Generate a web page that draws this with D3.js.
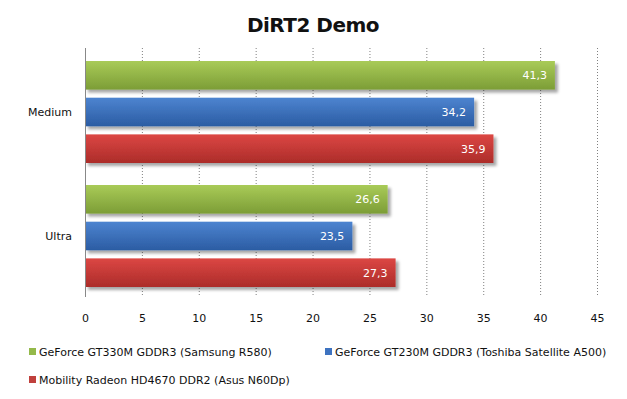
<!DOCTYPE html>
<html><head><meta charset="utf-8">
<script src="https://cdn.jsdelivr.net/npm/d3@7"></script>
<style>body{margin:0;background:#fff}svg{display:block}</style>
</head><body>
<script>
const categories = ["Medium", "Ultra"];
const seriesNames = ["GeForce GT330M GDDR3 (Samsung R580)", "GeForce GT230M GDDR3 (Toshiba Satellite A500)", "Mobility Radeon HD4670 DDR2 (Asus N60Dp)"];
const seriesValues = [[41.3, 26.6], [34.2, 23.5], [35.9, 27.3]];
const xTicks = [0, 5, 10, 15, 20, 25, 30, 35, 40, 45];
const title = "DiRT2 Demo";

(function () {
const colors = [
  {top: "#a9cb58", bot: "#7c9d36", sw: "#94b94a"},
  {top: "#4d84d0", bot: "#2b5ca3", sw: "#3e73c0"},
  {top: "#dc4744", bot: "#ac2c29", sw: "#c0403c"}
];

const W = 627, H = 399;
const svg = d3.select("body").append("svg").attr("width", W).attr("height", H);
const defs = svg.append("defs");
colors.forEach((c, i) => {
  const g = defs.append("linearGradient").attr("id", "g" + i).attr("x1", 0).attr("y1", 0).attr("x2", 0).attr("y2", 1);
  g.append("stop").attr("offset", "0%").attr("stop-color", c.top);
  g.append("stop").attr("offset", "100%").attr("stop-color", c.bot);
});
const f = defs.append("filter").attr("id", "sh").attr("x", "-5%").attr("y", "-20%").attr("width", "115%").attr("height", "160%");
f.append("feGaussianBlur").attr("in", "SourceAlpha").attr("stdDeviation", 1.5).attr("result", "b");
f.append("feOffset").attr("in", "b").attr("dx", 3).attr("dy", 3).attr("result", "o");
f.append("feComponentTransfer").attr("in", "o").attr("result", "o2").append("feFuncA").attr("type", "linear").attr("slope", 0.35);
const m = f.append("feMerge");
m.append("feMergeNode").attr("in", "o2");
m.append("feMergeNode").attr("in", "SourceGraphic");

const pl = 85, pr = 597, pt = 48, pb = 297;
const x = d3.scaleLinear().domain([0, 45]).range([pl, pr]);
const y0 = d3.scaleBand().domain(categories).range([pt + 2, pb + 1]).paddingInner(0).paddingOuter(0);
const y1 = d3.scaleBand().domain(d3.range(seriesNames.length)).range([11, y0.bandwidth() - 11]).paddingInner(0.22).paddingOuter(0);

svg.append("text").attr("x", 313).attr("y", 32).attr("text-anchor", "middle")
  .style("font-family", "'DejaVu Sans'").style("font-weight", "bold").style("font-size", "20px")
  .style("letter-spacing", "-0.5px").attr("fill", "#111").text(title);

// gridlines
svg.append("g").selectAll("line").data(xTicks.slice(1)).join("line")
  .attr("x1", d => x(d) + 0.5).attr("x2", d => x(d) + 0.5)
  .attr("y1", pt).attr("y2", pb)
  .attr("stroke", "#808080").attr("stroke-width", 1).attr("stroke-dasharray", "1,2");

// bars
const groups = svg.append("g").selectAll("g").data(categories).join("g")
  .attr("transform", d => `translate(0,${y0(d)})`);
groups.each(function(cat, ci) {
  const g = d3.select(this);
  seriesNames.forEach((s, si) => {
    const v = seriesValues[si][ci];
    g.append("rect").attr("x", x(0)).attr("y", y1(si)).attr("width", x(v) - x(0)).attr("height", y1.bandwidth())
      .attr("fill", `url(#g${si})`).attr("filter", "url(#sh)");
    g.append("text").attr("x", x(v) - 8).attr("y", y1(si) + y1.bandwidth() / 2 + 4)
      .attr("text-anchor", "end").attr("fill", "#fff")
      .style("font-family", "'DejaVu Sans'").style("font-size", "11px")
      .text(String(v).replace(".", ","));
  });
});

// left axis line
svg.append("line").attr("x1", pl + 0.5).attr("x2", pl + 0.5).attr("y1", pt).attr("y2", pb)
  .attr("stroke", "#888").attr("stroke-width", 1);

// category labels
svg.append("g").selectAll("text").data(categories).join("text")
  .attr("x", 72).attr("y", d => y0(d) + y0.bandwidth() / 2 + 4)
  .attr("text-anchor", "end").style("font-family", "'DejaVu Sans'").style("font-size", "11px").attr("fill", "#111")
  .text(d => d);

// x axis labels
const xa = svg.append("g").attr("transform", `translate(0,${pb})`)
  .call(d3.axisBottom(x).tickValues(xTicks).tickSize(0).tickPadding(17).tickFormat(d3.format("d")));
xa.select(".domain").remove();
xa.selectAll("text").style("font-family", "'DejaVu Sans'").style("font-size", "11px").attr("fill", "#111");

// legend
const legPos = [[29, 356], [325, 356], [29, 384]];
const leg = svg.append("g").selectAll("g").data(seriesNames).join("g")
  .attr("transform", (d, i) => `translate(${legPos[i][0]},${legPos[i][1]})`);
leg.append("rect").attr("x", 0).attr("y", -8).attr("width", 7).attr("height", 7).attr("fill", (d, i) => colors[i].sw);
leg.append("text").attr("x", 10).attr("y", 0).style("font-family", "'DejaVu Sans'").style("font-size", "11px")
  .attr("fill", "#111").text(d => d);
})();
</script>
</body></html>
